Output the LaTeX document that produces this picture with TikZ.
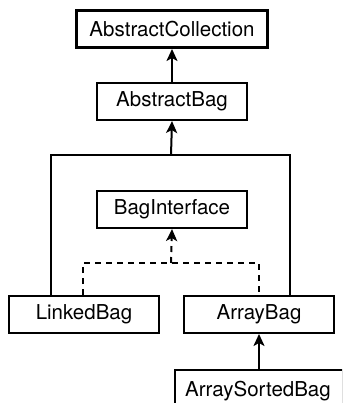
\documentclass[tikz,border=0pt]{standalone}
\usepackage{fontspec}
\setmainfont{TeX Gyre Heros}
\usetikzlibrary{arrows.meta}
\begin{document}
\begin{tikzpicture}[x=1pt,y=-1pt,
  cls/.style={draw, line width=2pt, minimum height=37pt, inner sep=0pt, font=\fontsize{20.5}{24}\selectfont, anchor=north west},
  inh/.style={line width=2pt, -{Stealth[length=12pt,width=11pt,inset=3pt]}},
  impl/.style={line width=2pt, dash pattern=on 6pt off 5pt, -{Stealth[length=12pt,width=11pt,inset=3pt]}},
  plain/.style={line width=2pt}]
\useasboundingbox (0,0) rectangle (342,403);
\clip (0,0) rectangle (342,403);
\node[cls, line width=3pt, minimum width=191pt] (ac) at (75,9) {AbstractCollection};
\node[cls, minimum width=150pt] (ab) at (96,82) {AbstractBag};
\node[cls, minimum width=150pt] (bi) at (96,190) {BagInterface};
\node[cls, minimum width=150pt] (lb) at (8,295) {LinkedBag};
\node[cls, minimum width=150pt] (arb) at (183,295) {ArrayBag};
\node[draw, line width=2pt, inner sep=0pt, minimum width=168pt, minimum height=50pt, anchor=north west, text depth=0pt, text height=0pt] (asb) at (174,369) {};
\node[font=\fontsize{20.5}{24}\selectfont, anchor=base] (asbt) at (258,396) {ArraySortedBag};
\coordinate (j) at (171,155);
\coordinate (jl) at (51,155);
\coordinate (jr) at (290,155);
\coordinate (d) at (171,263);
\coordinate (dl) at (83,263);
\coordinate (dr) at (259,263);
\draw[inh] (ab.north) -- (ac.south);
\draw[inh] (j) -- (ab.south);
\draw[plain] (lb.north west -| jl) -- (jl) -- (jr) -- (arb.north west -| jr);
\draw[impl] (d) -- (bi.south);
\draw[plain, dash pattern=on 6pt off 5pt] (lb.north west -| dl) -- (dl) -- (dr) -- (arb.north west -| dr);
\draw[inh] (asb.north -| arb.south) -- (arb.south);
\end{tikzpicture}
\end{document}
